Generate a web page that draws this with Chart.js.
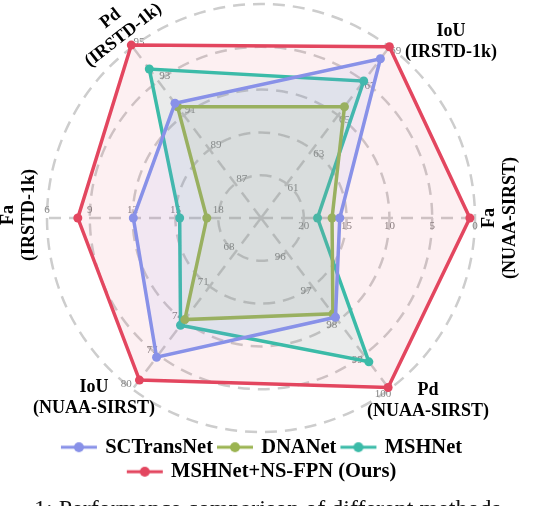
<!DOCTYPE html>
<html>
<head>
<meta charset="utf-8">
<script src="https://cdn.jsdelivr.net/npm/chart.js@4.4.1/dist/chart.umd.min.js"></script>
<style>
  html, body { margin: 0; padding: 0; background: #fff; }
  #wrap { width: 546px; height: 506px; position: relative; }
</style>
</head>
<body>
<div id="wrap"><canvas id="radar"></canvas></div>
<script>
// axes, counted clockwise from the right-hand spoke
const axisLabels = [
  ['Fa', '(NUAA-SIRST)'],
  ['Pd', '(NUAA-SIRST)'],
  ['IoU', '(NUAA-SIRST)'],
  ['Fa', '(IRSTD-1k)'],
  ['Pd', '(IRSTD-1k)'],
  ['IoU', '(IRSTD-1k)'],
];
// tick values on each spoke, inner ring -> outer ring
const axisTicks = [
  [20, 15, 10, 5, 0],
  [96, 97, 98, 99, 100],
  [68, 71, 74, 77, 80],
  [18, 15, 12, 9, 6],
  [87, 89, 91, 93, 95],
  [61, 63, 65, 67, 69],
];
const methods = ['SCTransNet', 'DNANet', 'MSHNet', 'MSHNet+NS-FPN (Ours)'];
const sctransnet = [15.8, 97.9, 77.2, 12.05, 91.7, 68.3];
const dnanet     = [16.7, 97.8, 73.9, 17.2, 91.5, 65.5];
const mshnet     = [18.4, 99.2, 74.4, 15.3, 93.7, 67.0];
const ours       = [0.6, 99.95, 79.2, 8.16, 95.1, 69.0];
const series = [sctransnet, dnanet, mshnet, ours];

// style
const axisAngles = [0, 53.13, 126.87, 180, 233.13, 306.87]; // screen degrees, clockwise from +x
const colors = ['#8891e8', '#9bb451', '#3bbba8', '#e3465f'];
const fills = ['rgba(136,145,232,0.1)', 'rgba(155,180,81,0.1)', 'rgba(59,187,168,0.1)', 'rgba(227,70,95,0.08)'];
const gridColor = '#cdcdcd';
const serif = "'Liberation Serif', 'Times New Roman', serif";
// per spoke: rotation of the label block and nudge from its anchor
const labelLayout = [
  { rot: -90, dx: -1, dy: 0 },
  { rot: 0, dx: 23, dy: -9 },
  { rot: 0, dx: -23, dy: -12 },
  { rot: -90, dx: -2, dy: -3 },
  { rot: -38, dx: 0, dy: 1 },
  { rot: 0, dx: 46, dy: 16 },
];

// value on a spoke -> ring level (ring 1..5)
function toLevel(axis, v) {
  const t = axisTicks[axis];
  return 1 + (v - t[0]) / (t[1] - t[0]);
}

class SkewRadialScale extends Chart.RadialLinearScale {
  static id = 'skewRadial';
  getIndexAngle(index) {
    return (axisAngles[index] + 90) * Math.PI / 180;
  }
}
Chart.register(SkewRadialScale);

function makeMarker(color) {
  const c = document.createElement('canvas');
  c.width = 40; c.height = 12;
  const g = c.getContext('2d');
  g.strokeStyle = color;
  g.lineWidth = 3;
  g.beginPath(); g.moveTo(3, 6); g.lineTo(39, 6); g.stroke();
  g.fillStyle = color;
  g.beginPath(); g.arc(21, 6, 5, 0, Math.PI * 2); g.fill();
  return c;
}

const axisText = {
  id: 'axisText',
  beforeDatasetsDraw(chart) {
    const s = chart.scales.r;
    const ctx = chart.ctx;
    ctx.save();
    ctx.font = '11px ' + serif;
    ctx.fillStyle = '#858585';
    ctx.textAlign = 'center';
    ctx.textBaseline = 'middle';
    axisTicks.forEach((ticks, i) => {
      const a = s.getIndexAngle(i) - Math.PI / 2;
      const ox = -Math.sin(a) * 8, oy = Math.cos(a) * 8;
      ticks.forEach((t, k) => {
        const p = s.getPointPosition(i, s.getDistanceFromCenterForValue(k + 1));
        ctx.fillText(String(t), p.x + ox, p.y + oy);
      });
    });
    ctx.restore();
  },
  afterDraw(chart) {
    const s = chart.scales.r;
    const ctx = chart.ctx;
    ctx.save();
    ctx.font = 'bold 18px ' + serif;
    ctx.fillStyle = '#000';
    ctx.textAlign = 'center';
    ctx.textBaseline = 'middle';
    axisLabels.forEach((lines, i) => {
      const lay = labelLayout[i];
      const p = s.getPointPosition(i, s.drawingArea + 26);
      ctx.save();
      ctx.translate(p.x + lay.dx, p.y + lay.dy);
      ctx.rotate(lay.rot * Math.PI / 180);
      lines.forEach((ln, k) => ctx.fillText(ln, 0, (k - (lines.length - 1) / 2) * 21));
      ctx.restore();
    });
    // caption of the source figure, cut by the bottom edge
    ctx.font = '24px ' + serif;
    ctx.fillStyle = '#111';
    ctx.textAlign = 'left';
    ctx.textBaseline = 'alphabetic';
    ctx.fillText('1: Performance comparison of different methods', 34, 516);
    ctx.restore();
  },
};

new Chart(document.getElementById('radar'), {
  type: 'radar',
  data: {
    labels: axisLabels.map(l => l.join(' ')),
    datasets: methods.map((name, i) => ({
      label: name,
      data: series[i].map((v, a) => toLevel(a, v)),
      borderColor: colors[i],
      backgroundColor: fills[i],
      pointBackgroundColor: colors[i],
      pointBorderColor: colors[i],
      pointBorderWidth: 0,
      pointRadius: 4.5,
      borderWidth: 3.5,
      fill: true,
    })),
  },
  options: {
    responsive: true,
    maintainAspectRatio: false,
    animation: false,
    layout: { padding: { top: 4, left: 0, right: 23, bottom: 14 } },
    scales: {
      r: {
        type: 'skewRadial',
        min: 0,
        max: 5,
        ticks: { display: false, stepSize: 1 },
        pointLabels: { display: false },
        grid: { circular: true, color: gridColor, lineWidth: 2.5, borderDash: [12, 8] },
        border: { dash: [12, 8] },
        angleLines: { color: gridColor, lineWidth: 2.5, borderDash: [12, 8] },
      },
    },
    plugins: {
      tooltip: { enabled: false },
      legend: {
        position: 'bottom',
        labels: {
          color: '#000',
          font: { family: serif, size: 20.5, weight: 'bold' },
          usePointStyle: true,
          pointStyleWidth: 34,
          padding: 4,
          generateLabels: chart => chart.data.datasets.map((ds, i) => ({
            text: ds.label,
            pointStyle: makeMarker(colors[i]),
            fillStyle: colors[i],
            strokeStyle: colors[i],
            lineWidth: 0,
            hidden: false,
            datasetIndex: i,
          })),
        },
      },
    },
  },
  plugins: [axisText],
});
</script>
</body>
</html>
